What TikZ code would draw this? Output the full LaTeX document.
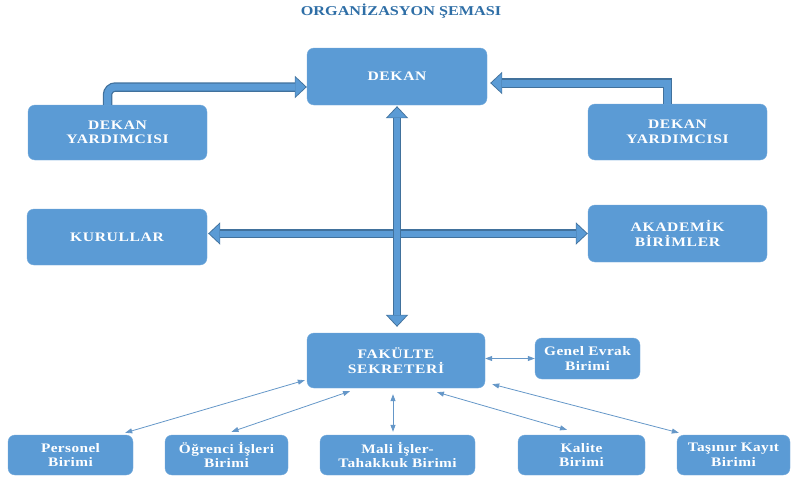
\documentclass[tikz,border=0pt]{standalone}
\usepackage{fontspec}
\setmainfont{Liberation Serif}
\usetikzlibrary{arrows.meta}
\definecolor{kutumavi}{HTML}{5B9BD5}
\definecolor{kenarmavi}{HTML}{41719C}
\definecolor{baslikmavi}{HTML}{2E6EA6}
\definecolor{incemavi}{HTML}{6597C8}
\tikzset{
  kutu/.style={
    draw=kutumavi!85!white, fill=kutumavi, rectangle, rounded corners=7pt,
    text=white, align=center, inner sep=0pt,
    font={\fontsize{13}{14.5}\selectfont\bfseries\addfontfeature{FakeStretch=1.2,LetterSpace=5}}
  },
  kutuk/.style={
    kutu, minimum height=40pt,
    font={\fontsize{13}{14.5}\selectfont\bfseries\addfontfeature{FakeStretch=1.18,LetterSpace=3}}
  },
  kalin/.style={
    draw=kutumavi, line width=7pt, shorten >=1.4pt,
    -{Triangle[width=19pt,length=10pt,line width=0pt]},
    preaction={draw=kenarmavi, line width=9.5pt, shorten >=0pt,
      -{Triangle[width=22.5pt,length=12pt,line width=0pt]}}
  },
  kalinc/.style={
    draw=kutumavi, line width=6pt, shorten >=1.4pt, shorten <=1.4pt,
    {Triangle[width=19pt,length=10pt,line width=0pt]}-{Triangle[width=19pt,length=10pt,line width=0pt]},
    preaction={draw=kenarmavi, line width=8.5pt, shorten >=0pt, shorten <=0pt,
      {Triangle[width=22.5pt,length=12pt,line width=0pt]}-{Triangle[width=22.5pt,length=12pt,line width=0pt]}}
  },
  ince/.style={
    draw=incemavi, line width=0.8pt,
    {Triangle[length=7pt,width=5pt]}-{Triangle[length=7pt,width=5pt]}
  }
}

\begin{document}
\begin{tikzpicture}[x=1pt, y=-1pt]
   \useasboundingbox (0, 0) rectangle (795, 479);

   \node[text=baslikmavi, font={\fontsize{13.5}{15}\selectfont\bfseries\addfontfeature{FakeStretch=1.2}}] (baslik) at (401, 11) {ORGANİZASYON ŞEMASI};

   % ust kisim
   \node[kutu, minimum width=180pt, minimum height=57pt] (dekan) at (397, 76.5) {DEKAN};
   \node[kutu, minimum width=179pt, minimum height=55pt] (yardsol) at (117.5, 132.5) {DEKAN\\YARDIMCISI};
   \node[kutu, minimum width=179pt, minimum height=56pt] (yardsag) at (677.5, 132) {DEKAN\\YARDIMCISI};
   \node[kutu, minimum width=180pt, minimum height=56pt] (kurul) at (117, 237) {KURULLAR};
   \node[kutu, minimum width=179pt, minimum height=57pt] (akad) at (677.5, 233.5) {AKADEMİK\\BİRİMLER};
   \node[kutu, minimum width=178pt, minimum height=55pt] (sekreter) at (396, 360.5) {FAKÜLTE\\SEKRETERİ};

   % alt birimler
   \node[kutuk, minimum width=105pt, minimum height=41pt] (evrak) at (587.5, 358.5) {Genel Evrak\\Birimi};
   \node[kutuk, minimum width=125pt] (personel) at (70.5, 455) {Personel\\Birimi};
   \node[kutuk, minimum width=123pt] (ogrenci) at (226.5, 455) {Öğrenci İşleri\\Birimi};
   \node[kutuk, minimum width=155pt] (mali) at (397.5, 455) {Mali İşler-\\Tahakkuk Birimi};
   \node[kutuk, minimum width=127pt] (kalite) at (581.5, 455) {Kalite\\Birimi};
   \node[kutuk, minimum width=113pt] (tasinir) at (733.5, 455) {Taşınır Kayıt\\Birimi};

   % kalin oklar
   \draw[kalin, rounded corners=8pt] ([xshift=-10pt]yardsol.north) |- ([yshift=-10.5pt]dekan.west);
   \draw[kalin] ([xshift=-10pt]yardsag.north) |- ([xshift=3pt,yshift=-6.5pt]dekan.east);
   \draw[kalinc] ([xshift=1pt]kurul.east |- akad.west) -- (akad.west);
   \draw[kalinc] ([yshift=-1pt]dekan.south) -- ([yshift=6pt]dekan.south |- sekreter.north);

   % ince oklar
   \draw[ince] ([yshift=2pt]sekreter.east) -- (evrak.west);
   \draw[ince] ([xshift=-2pt,yshift=8pt]sekreter.south west) -- ([xshift=-8pt,yshift=2pt]personel.north east);
   \draw[ince] ([xshift=-46pt,yshift=-3pt]sekreter.south) -- ([xshift=5pt,yshift=3pt]ogrenci.north);
   \draw[ince] ([xshift=-3pt,yshift=-6pt]sekreter.south) -- ([xshift=-4.5pt,yshift=3pt]mali.north);
   \draw[ince] ([xshift=41pt,yshift=-4pt]sekreter.south) -- ([xshift=-14.5pt,yshift=5pt]kalite.north);
   \draw[ince] ([xshift=7pt,yshift=4pt]sekreter.south east) -- ([xshift=2pt,yshift=2pt]tasinir.north west);
\end{tikzpicture}
\end{document}
